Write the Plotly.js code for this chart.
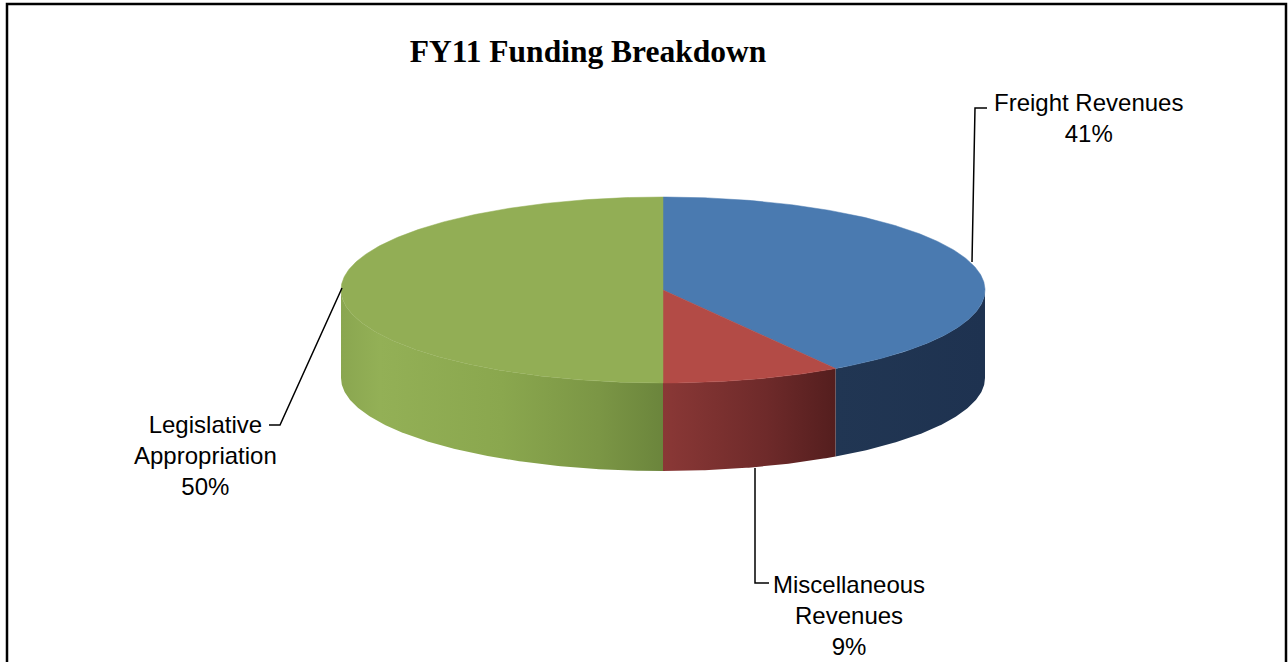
<!DOCTYPE html>
<html>
<head>
<meta charset="utf-8">
<script src="https://cdn.plot.ly/plotly-3.0.1.min.js"></script>
<style>html,body{margin:0;padding:0;background:#fff;}#chart{width:1288px;height:662px;}</style>
</head>
<body>
<div id="chart"></div>
<script>
// ---- data ----
const chartTitle = 'FY11 Funding Breakdown';
const categories = ['Freight Revenues', 'Miscellaneous Revenues', 'Legislative Appropriation'];
const values = [41, 9, 50];

// ---- style ----
const topColors = ['#4a7ab0', '#b34b46', '#92ae55'];
const sideScales = [
  [[0, '#213653'], [1, '#1e3250']],
  [[0, '#8a3836'], [0.6, '#6e2a2a'], [1, '#541e1e']],
  [[0, '#8aa650'], [0.12, '#93b056'], [0.5, '#8aa74e'], [0.8, '#7b9645'], [1, '#6b853c']]
];
const wrapLabel = [false, true, true];
const labelPos = [[1088, 118], [849, 615], [205, 455]];
const leaders = [
  'M 972 262 L 975 108 L 987 108',
  'M 755 468 L 755 583 L 769 583',
  'M 342 288 L 280 425 L 269 425'
];

// ---- geometry of the tilted pie ----
const cx = 663, cy = 290, rx = 322, ry = 93, depth = 88;
function pt(th, dy) { return [cx + rx * Math.sin(th), cy - ry * Math.cos(th) + dy]; }
function arc(a0, a1, dy) {
  const n = Math.max(2, Math.ceil((a1 - a0) / (Math.PI / 360)));
  const xs = [], ys = [];
  for (let i = 0; i <= n; i++) {
    const p = pt(a0 + (a1 - a0) * i / n, dy);
    xs.push(p[0]); ys.push(p[1]);
  }
  return [xs, ys];
}

const total = values.reduce((a, b) => a + b, 0);
const sides = [], tops = [];
let acc = 0;
values.forEach((v, i) => {
  const a0 = acc / total * 2 * Math.PI;
  acc += v;
  const a1 = acc / total * 2 * Math.PI;
  // top face
  const t = arc(a0, a1, 0);
  tops.push({
    type: 'scatter', mode: 'lines', fill: 'toself',
    x: [cx].concat(t[0]).concat([cx]), y: [cy].concat(t[1]).concat([cy]),
    fillcolor: topColors[i], line: {width: 0.5, color: topColors[i]},
    hoverinfo: 'text', text: categories[i] + ': ' + v + '%', showlegend: false
  });
  // front side wall (visible between 90 and 270 degrees)
  const s0 = Math.max(a0, Math.PI / 2), s1 = Math.min(a1, 3 * Math.PI / 2);
  if (s1 > s0) {
    const up = arc(s0, s1, 0), dn = arc(s0, s1, depth);
    const xs = up[0].concat(dn[0].slice().reverse()); xs.push(up[0][0]);
    const ys = up[1].concat(dn[1].slice().reverse()); ys.push(up[1][0]);
    const xmin = Math.min.apply(null, xs), xmax = Math.max.apply(null, xs);
    sides.push({
      type: 'scatter', mode: 'lines', fill: 'toself', x: xs, y: ys,
      fillcolor: sideScales[i][0][1],
      fillgradient: {type: 'horizontal', colorscale: sideScales[i], start: xmin, stop: xmax},
      line: {width: 0}, hoverinfo: 'skip', showlegend: false
    });
  }
});

const annotations = categories.map((c, i) => {
  const name = wrapLabel[i] ? c.replace(' ', '<br>') : c;
  return {
    x: labelPos[i][0], y: labelPos[i][1], xref: 'x', yref: 'y',
    text: name + '<br>' + Math.round(values[i] / total * 100) + '%',
    showarrow: false, xanchor: 'center', yanchor: 'middle', align: 'center',
    font: {family: 'Liberation Sans, Arial, sans-serif', size: 24, color: '#000'}
  };
});

const shapes = leaders.map(p => ({type: 'path', path: p, xref: 'x', yref: 'y', line: {color: '#000', width: 1.5}}));
shapes.push({type: 'rect', xref: 'x', yref: 'y', x0: 7, x1: 1286, y0: 4, y1: 700, line: {color: '#000', width: 2.5}, fillcolor: 'rgba(0,0,0,0)', layer: 'above'});

const layout = {
  width: 1288, height: 662, autosize: false,
  margin: {l: 0, r: 0, t: 0, b: 0, pad: 0},
  paper_bgcolor: '#fff', plot_bgcolor: '#fff',
  title: {
    text: '<b>' + chartTitle + '</b>',
    x: 588 / 1288, xref: 'container', xanchor: 'center',
    y: 1 - 51 / 662, yref: 'container', yanchor: 'middle',
    font: {family: 'Liberation Serif, Cambria, serif', size: 31.5, color: '#000'}
  },
  xaxis: {range: [0, 1288], visible: false, fixedrange: true},
  yaxis: {range: [662, 0], visible: false, fixedrange: true},
  showlegend: false,
  annotations: annotations,
  shapes: shapes
};

Plotly.newPlot('chart', sides.concat(tops), layout, {displayModeBar: false, staticPlot: true});
</script>
</body>
</html>
